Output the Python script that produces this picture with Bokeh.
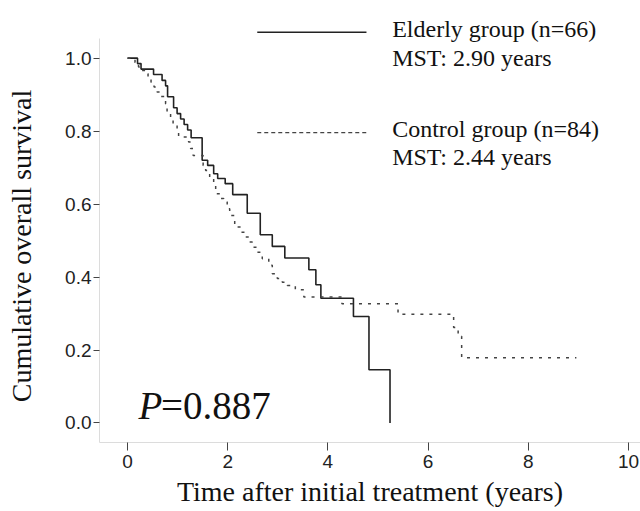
from bokeh.plotting import figure
from bokeh.models import Range1d, Label, FixedTicker, NumeralTickFormatter
from bokeh.embed import file_html
from bokeh.resources import INLINE

# ---- data ----
elderly_t = [0, 0.20, 0.27, 0.52, 0.69, 0.76, 0.80, 0.92, 0.99, 1.06, 1.13, 1.20, 1.27, 1.49, 1.60,
             1.72, 1.80, 1.95, 2.10, 2.39, 2.65, 2.89, 3.14, 3.62, 3.76, 3.86, 4.51, 4.82, 5.24]
elderly_s = [1.0, 0.985, 0.970, 0.955, 0.939, 0.924, 0.894, 0.864, 0.848, 0.833, 0.818, 0.803, 0.782, 0.720,
             0.706, 0.683, 0.670, 0.656, 0.626, 0.575, 0.516, 0.484, 0.452, 0.420, 0.379, 0.342, 0.292, 0.146, 0.0]

control_t = [0, 0.15, 0.22, 0.29, 0.36, 0.41, 0.47, 0.53, 0.59, 0.66, 0.76, 0.79, 0.86, 0.91, 0.99, 1.02,
             1.22, 1.26, 1.31, 1.51, 1.56, 1.64, 1.72, 1.76, 1.86, 1.92, 1.99, 2.04, 2.14, 2.26, 2.36, 2.42,
             2.49, 2.59, 2.69, 2.82, 2.89, 2.99, 3.09, 3.19, 3.35, 3.52, 4.28, 5.40, 6.51, 6.60, 6.67, 8.96]
control_s = [1.0, 0.988, 0.976, 0.966, 0.957, 0.945, 0.934, 0.921, 0.907, 0.895, 0.875, 0.852, 0.836, 0.820,
             0.803, 0.784, 0.770, 0.752, 0.733, 0.706, 0.692, 0.674, 0.655, 0.628, 0.615, 0.606, 0.587, 0.569,
             0.537, 0.523, 0.510, 0.496, 0.482, 0.468, 0.450, 0.432, 0.409, 0.396, 0.386, 0.377, 0.365, 0.345,
             0.327, 0.298, 0.262, 0.238, 0.179, 0.179]

x_ticks = [0, 2, 4, 6, 8, 10]
y_ticks = [0.0, 0.2, 0.4, 0.6, 0.8, 1.0]

legend_rows = [
    ("Elderly group (n=66)", "MST: 2.90 years"),
    ("Control group (n=84)", "MST: 2.44 years"),
]
p_value_text = "=0.887"
x_title = "Time after initial treatment (years)"
y_title = "Cumulative overall survival"

SERIF = "Liberation Serif"
SANS = "Liberation Sans"

p = figure(width=640, height=511, output_backend="svg", toolbar_location=None,
           min_border_left=99, min_border_right=0, min_border_top=0, min_border_bottom=69,
           x_range=Range1d(-0.559, 10.24), y_range=Range1d(-0.0535, 1.158))
p.outline_line_color = None
p.grid.visible = False
p.background_fill_color = "white"
p.border_fill_color = "white"

# axes
p.xaxis.ticker = FixedTicker(ticks=x_ticks)
p.yaxis.ticker = FixedTicker(ticks=y_ticks)
p.yaxis.formatter = NumeralTickFormatter(format="0.0")
p.yaxis.bounds = (-0.0535, 1.0535)
for ax in (p.xaxis, p.yaxis):
    ax.axis_line_color = "#dcdcdc"
    ax.axis_line_width = 1
    ax.major_tick_line_color = "#444444"
    ax.major_tick_in = 0
    ax.minor_tick_line_color = None
    ax.major_label_text_font = SANS
    ax.major_label_text_font_size = "19px"
    ax.major_label_text_color = "#222222"
    ax.axis_label_text_font = SERIF
    ax.axis_label_text_font_style = "normal"
    ax.axis_label_text_font_size = "28px"
    ax.axis_label_text_color = "#111111"
p.xaxis.major_tick_out = 8
p.yaxis.major_tick_out = 6
p.xaxis.major_label_standoff = 4
p.yaxis.major_label_standoff = 2
p.xaxis.axis_label = x_title
# trailing no-break spaces shift the centred title down to where the reference has it
p.yaxis.axis_label = y_title + "\u00a0" * 7
p.xaxis.axis_label_standoff = 5
p.yaxis.axis_label_standoff = 25

# curves
p.step(elderly_t, elderly_s, mode="after", line_color="#222222", line_width=1.6)
p.step(control_t, control_s, mode="after", line_color="#444444", line_width=1.5, line_dash="3 6")

# legend-like annotation
p.line([2.59, 4.77], [1.071, 1.071], line_color="#222222", line_width=1.5)
p.line([2.59, 4.77], [0.7956, 0.7956], line_color="#444444", line_width=1.2, line_dash="4 3")
legend_y = [(1.0805, 1.001), (0.8066, 0.7288)]
for (l1, l2), (y1, y2) in zip(legend_rows, legend_y):
    for txt, yy in ((l1, y1), (l2, y2)):
        p.add_layout(Label(x=5.283, y=yy, text=txt, text_font=SERIF, text_font_size="24px",
                           text_color="#111111", text_baseline="alphabetic"))

# P value
p.add_layout(Label(x=0.22, y=0.0485, text="P", text_font=SERIF, text_font_style="italic",
                   text_font_size="39px", text_color="#111111", text_baseline="alphabetic"))
p.add_layout(Label(x=0.67, y=0.0485, text=p_value_text, text_font=SERIF,
                   text_font_size="39px", text_color="#111111", text_baseline="alphabetic"))

open("out.html", "w").write(file_html(p, INLINE))
